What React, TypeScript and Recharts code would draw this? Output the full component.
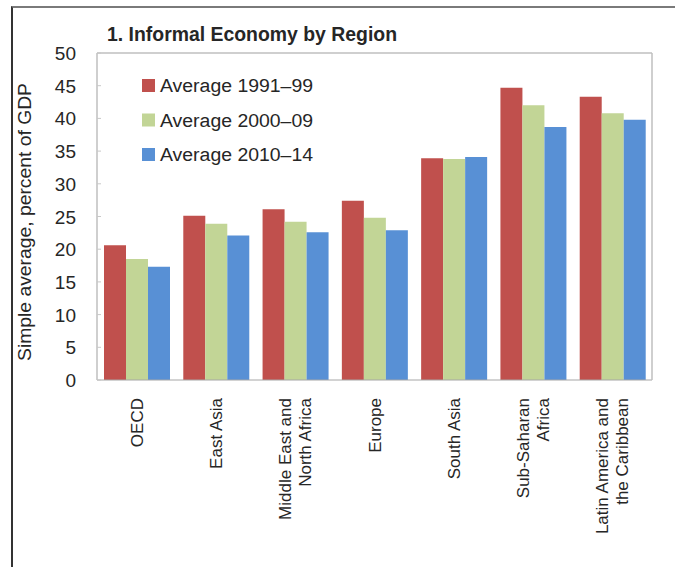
import { Bar, BarChart, XAxis, YAxis } from "recharts"

// Regions, left to right (\n = line break in the rotated label)
const regions = [
  "OECD",
  "East Asia",
  "Middle East and\nNorth Africa",
  "Europe",
  "South Asia",
  "Sub-Saharan\nAfrica",
  "Latin America and\nthe Caribbean",
]

// Simple average, percent of GDP
const avg1991to99 = [20.6, 25.1, 26.1, 27.4, 33.9, 44.7, 43.3]
const avg2000to09 = [18.5, 23.9, 24.2, 24.8, 33.8, 42.0, 40.8]
const avg2010to14 = [17.3, 22.1, 22.6, 22.9, 34.1, 38.7, 39.8]

const yTicks = [0, 5, 10, 15, 20, 25, 30, 35, 40, 45, 50]

const series = [
  { key: "a1", name: "Average 1991\u201399", color: "#C0504D", values: avg1991to99 },
  { key: "a2", name: "Average 2000\u201309", color: "#C2D596", values: avg2000to09 },
  { key: "a3", name: "Average 2010\u201314", color: "#5890D5", values: avg2010to14 },
]

const chartData = regions.map((region, i) => {
  const row: Record<string, any> = { region }
  series.forEach((s) => {
    row[s.key] = s.values[i]
  })
  return row
})

const FONT = "'Liberation Sans', Arial, sans-serif"
const TEXT = "#262626"

function RegionTick({ x, y, payload }: any) {
  const lines = String(payload.value).split("\n")
  const lineH = 20
  return (
    <g>
      {lines.map((line, i) => {
        const lx = x + i * lineH - ((lines.length - 1) * lineH) / 2 + 6
        return (
          <text
            key={i}
            x={lx}
            y={y + 10}
            transform={`rotate(-90 ${lx} ${y + 10})`}
            textAnchor="end"
            fontSize={17}
            fontFamily={FONT}
            fill={TEXT}
          >
            {line}
          </text>
        )
      })}
    </g>
  )
}

function ValueTick({ x, y, payload }: any) {
  return (
    <g>
      <line x1={x + 21} x2={x + 25} y1={y} y2={y} stroke="#c8c8c8" />
      <text x={x} y={y + 7} textAnchor="end" fontSize={19} fontFamily={FONT} fill={TEXT}>
        {payload.value}
      </text>
    </g>
  )
}

function LegendBox() {
  return (
    <svg width={200} height={110}>
      {series.map((s, i) => (
        <g key={s.key}>
          <rect x={0} y={9 + i * 34.5} width={13} height={13} fill={s.color} />
          <text
            x={18}
            y={22 + i * 34.5}
            fontSize={18}
            fontFamily={FONT}
            fill={TEXT}
            textLength={153}
            lengthAdjust="spacingAndGlyphs"
          >
            {s.name}
          </text>
        </g>
      ))}
    </svg>
  )
}

export default function App() {
  return (
    <div
      style={{
        position: "absolute",
        left: 0,
        top: 0,
        width: 675,
        height: 567,
        background: "#fff",
      }}
    >
      {/* outer frame, only top and left edges visible */}
      <div
        style={{
          position: "absolute",
          left: 11,
          top: 6,
          width: 664,
          height: 561,
          borderLeft: "2px solid #333",
          borderTop: "2px solid #7a7a7a",
        }}
      />
      <svg style={{ position: "absolute", left: 0, top: 0 }} width={675} height={50}>
        <text
          x={107}
          y={41}
          fontSize={20}
          fontWeight="bold"
          fontFamily={FONT}
          fill={TEXT}
          textLength={290}
          lengthAdjust="spacingAndGlyphs"
        >
          1. Informal Economy by Region
        </text>
      </svg>
      <div style={{ position: "absolute", left: 0, top: 0 }}>
        <BarChart
          width={675}
          height={567}
          data={chartData}
          margin={{ top: 52, right: 22, bottom: 0, left: 37 }}
          barCategoryGap={7}
          barGap={0}
        >
          <XAxis
            dataKey="region"
            interval={0}
            height={187}
            tickLine={false}
            axisLine={{ stroke: "#a6a6a6" }}
            tick={<RegionTick />}
          />
          <XAxis
            xAxisId="top"
            dataKey="region"
            orientation="top"
            height={1}
            tick={false}
            tickLine={false}
            axisLine={{ stroke: "#bfbfbf", strokeWidth: 1.5 }}
          />
          <YAxis
            domain={[0, 50]}
            ticks={yTicks}
            interval={0}
            width={60}
            tickLine={false}
            tickSize={6}
            tickMargin={15}
            axisLine={{ stroke: "#bfbfbf", strokeWidth: 1.5 }}
            tick={<ValueTick />}
            label={() => (
              <text
                x={31}
                y={222}
                transform="rotate(-90 31 222)"
                textAnchor="middle"
                fontSize={18}
                fontFamily={FONT}
                fill={TEXT}
                textLength={278}
                lengthAdjust="spacingAndGlyphs"
              >
                Simple average, percent of GDP
              </text>
            )}
          />
          <YAxis
            yAxisId="right"
            orientation="right"
            domain={[0, 50]}
            width={1}
            tick={false}
            tickLine={false}
            axisLine={{ stroke: "#bfbfbf", strokeWidth: 1.5 }}
          />
          {series.map((s) => (
            <Bar key={s.key} dataKey={s.key} name={s.name} fill={s.color} isAnimationActive={false} />
          ))}
        </BarChart>
      </div>
      <div style={{ position: "absolute", left: 142, top: 70 }}>
        <LegendBox />
      </div>
    </div>
  )
}
